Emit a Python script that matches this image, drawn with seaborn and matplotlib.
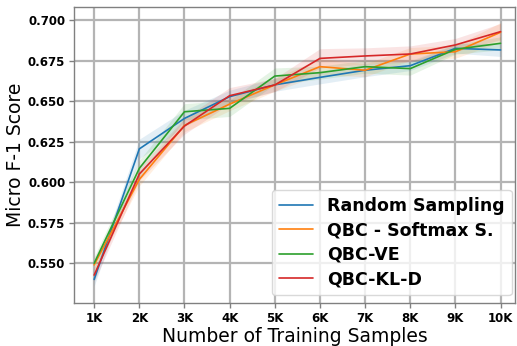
import numpy as np
import pandas as pd
import matplotlib
matplotlib.use("Agg")
import matplotlib.pyplot as plt
import seaborn as sns

# Training-set sizes (thousands) and their tick labels
sizes = [1, 2, 3, 4, 5, 6, 7, 8, 9, 10]
size_labels = ["1K", "2K", "3K", "4K", "5K", "6K", "7K", "8K", "9K", "10K"]

methods = ["Random Sampling", "QBC - Softmax S.", "QBC-VE", "QBC-KL-D"]

# Mean micro F1 per strategy
random_mean = [0.5400, 0.6205, 0.6393, 0.6527, 0.6600, 0.6646, 0.6690, 0.6718, 0.6825, 0.6815]
softmax_mean = [0.5490, 0.6017, 0.6350, 0.6481, 0.6600, 0.6712, 0.6690, 0.6790, 0.6804, 0.6924]
ve_mean = [0.5500, 0.6085, 0.6434, 0.6455, 0.6654, 0.6675, 0.6712, 0.6700, 0.6819, 0.6856]
kld_mean = [0.5427, 0.6050, 0.6346, 0.6533, 0.6599, 0.6763, 0.6778, 0.6790, 0.6846, 0.6928]

# Standard deviation across runs per strategy
random_sd = [0.004, 0.006, 0.005, 0.004, 0.004, 0.004, 0.004, 0.003, 0.003, 0.004]
softmax_sd = [0.004, 0.004, 0.004, 0.004, 0.004, 0.005, 0.004, 0.004, 0.004, 0.006]
ve_sd = [0.004, 0.005, 0.005, 0.005, 0.005, 0.004, 0.004, 0.004, 0.003, 0.004]
kld_sd = [0.004, 0.004, 0.005, 0.005, 0.004, 0.006, 0.005, 0.005, 0.004, 0.005]

means = [random_mean, softmax_mean, ve_mean, kld_mean]
sds = [random_sd, softmax_sd, ve_sd, kld_sd]

# Long-format table: three runs per point (mean - sd, mean, mean + sd)
rows = []
for name, m_list, s_list in zip(methods, means, sds):
    for x, m, s in zip(sizes, m_list, s_list):
        for k in (-1, 0, 1):
            rows.append({"size": x, "f1": m + k * s, "method": name})
df = pd.DataFrame(rows)

sns.set_style("white")
plt.rcParams["font.family"] = ["DejaVu Sans"]
plt.rcParams["text.color"] = "black"
plt.rcParams["axes.labelcolor"] = "black"
plt.rcParams["xtick.color"] = "black"
plt.rcParams["ytick.color"] = "black"

fig = plt.figure(figsize=(5.17, 3.46), dpi=100)
ax = fig.add_axes([0.1437, 0.1234, 0.8525, 0.8555])

sns.lineplot(data=df, x="size", y="f1", hue="method", hue_order=methods,
             palette=sns.color_palette("tab10", 4), errorbar="sd",
             err_kws={"alpha": 0.12, "linewidth": 0}, linewidth=1.2, ax=ax)

ax.set_xlim(0.56, 10.32)
ax.set_ylim(0.5253, 0.7078)
ax.set_xticks(sizes)
ax.set_xticklabels(size_labels)
ax.set_yticks([0.550, 0.575, 0.600, 0.625, 0.650, 0.675, 0.700])
ax.set_yticklabels(["0.550", "0.575", "0.600", "0.625", "0.650", "0.675", "0.700"])

ax.grid(True, color="#b4b4b4", linewidth=1.6)
ax.set_axisbelow(True)
for sp in ax.spines.values():
    sp.set_color("#808080")
    sp.set_linewidth(1.0)
ax.tick_params(axis="both", which="major", length=3.5, width=1.0, color="#808080",
               labelcolor="black", labelsize=8.5, pad=3, bottom=True, left=True)
for lbl in ax.get_xticklabels() + ax.get_yticklabels():
    lbl.set_fontweight("bold")

ax.set_xlabel("Number of Training Samples", fontsize=13.5, labelpad=1, color="black")
ax.set_ylabel("Micro F-1 Score", fontsize=13.5, labelpad=2, color="black")

leg = ax.legend(loc="lower right", bbox_to_anchor=(0.993, 0.028), frameon=True,
                prop={"weight": "bold", "size": 12.5}, borderaxespad=0,
                labelspacing=0.37)
leg.get_frame().set_edgecolor("#d0d0d0")
for t in leg.get_texts():
    t.set_color("black")

fig.savefig("out.png", dpi=100)
